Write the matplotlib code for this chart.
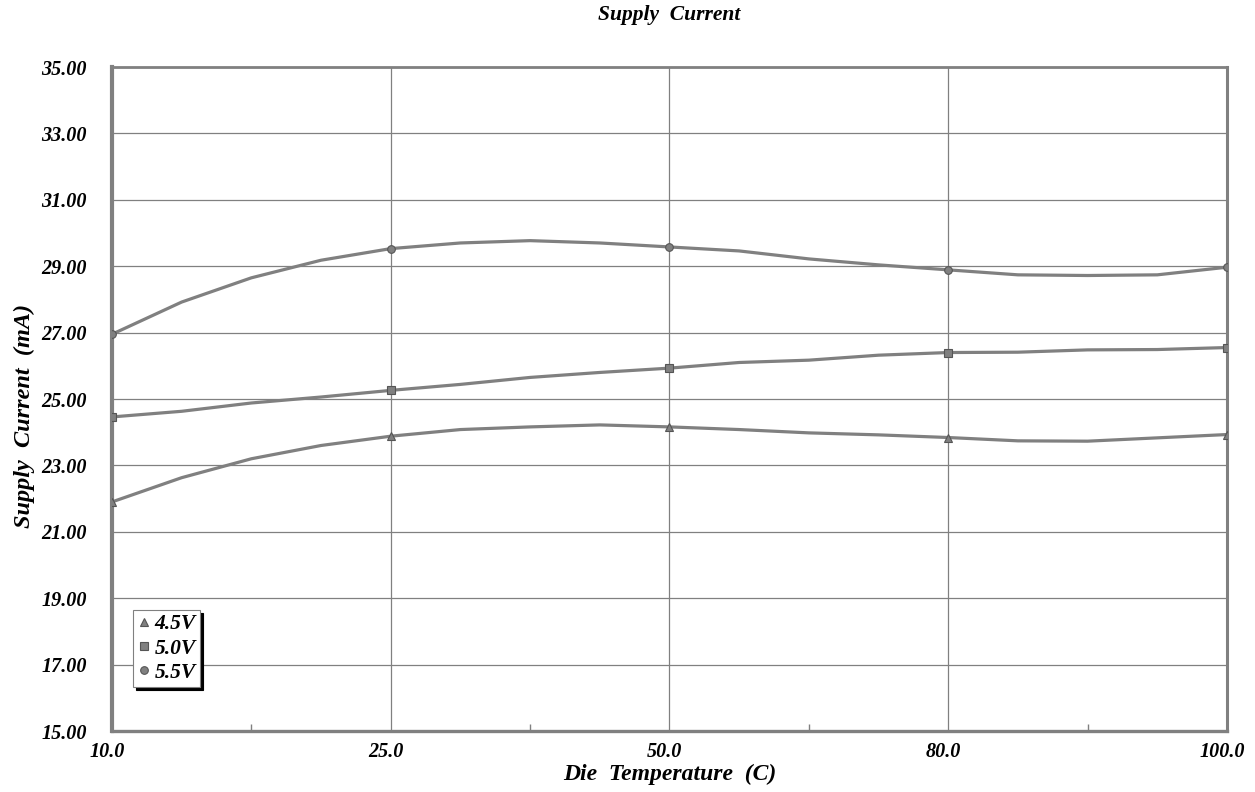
import numpy as np
import matplotlib
matplotlib.use("Agg")
import matplotlib.pyplot as plt
from matplotlib.ticker import FixedLocator
from matplotlib.transforms import ScaledTranslation

# Category labels on the x axis (equally spaced categories)
temp_labels = ["10.0", "25.0", "50.0", "80.0", "100.0"]

# Curve every quarter category (markers sit on every 4th point)
trace_pos = [0.0, 0.25, 0.5, 0.75, 1.0, 1.25, 1.5, 1.75, 2.0,
             2.25, 2.5, 2.75, 3.0, 3.25, 3.5, 3.75, 4.0]
curr_45 = [21.90, 22.63, 23.20, 23.60, 23.88, 24.08, 24.16, 24.22, 24.16,
           24.08, 23.98, 23.92, 23.84, 23.74, 23.73, 23.83, 23.93]
curr_50 = [24.46, 24.63, 24.88, 25.06, 25.26, 25.44, 25.65, 25.80, 25.93,
           26.10, 26.17, 26.32, 26.40, 26.41, 26.48, 26.49, 26.55]
curr_55 = [26.95, 27.92, 28.65, 29.18, 29.53, 29.70, 29.77, 29.70, 29.58,
           29.46, 29.22, 29.04, 28.89, 28.74, 28.72, 28.74, 28.97]

series_names = ["4.5V", "5.0V", "5.5V"]
y_ticks = [15, 17, 19, 21, 23, 25, 27, 29, 31, 33, 35]

GRAY = "#808080"
FONT = dict(family="Liberation Serif", weight="bold", style="italic")

fig = plt.figure(figsize=(12.55, 7.92), dpi=100)
ax = fig.add_axes([0.0892, 0.077, 0.8885, 0.8384])

markers = ["^", "s", "o"]
for vals, mk, name in zip([curr_45, curr_50, curr_55], markers, series_names):
	ax.plot(trace_pos, vals, color=GRAY, lw=2.3, zorder=3,
			marker=mk, markevery=4, ms=5.5, mfc=GRAY, mec="#555555", mew=0.8,
			label=name)

ax.set_xlim(0, 4)
ax.set_ylim(15, 35)
ax.set_xticks(range(len(temp_labels)))
ax.set_xticklabels(temp_labels, fontsize=14.5, **FONT)
ax.set_yticks(y_ticks)
ax.set_yticklabels(["%.2f" % v for v in y_ticks], fontsize=14.5, **FONT)
ax.xaxis.set_minor_locator(FixedLocator([0.5, 1.5, 2.5, 3.5]))
ax.tick_params(axis="both", which="major", length=0)
ax.tick_params(axis="y", pad=18)
ax.tick_params(axis="x", pad=8)
ax.tick_params(axis="x", which="minor", direction="in", length=5, color=GRAY, width=1)

# x labels sit a little left of their gridlines in the original
shift = ScaledTranslation(-5 / 100, 0, fig.dpi_scale_trans)
for lbl in ax.get_xticklabels():
	lbl.set_transform(lbl.get_transform() + shift)

ax.grid(True, which="major", color=GRAY, lw=0.9, zorder=0)
ax.set_axisbelow(True)

for side, w in [("left", 3.0), ("bottom", 2.4), ("top", 2.0), ("right", 2.2)]:
	ax.spines[side].set_color(GRAY)
	ax.spines[side].set_linewidth(w)

fig.text(0.533, 0.994, "Supply  Current", ha="center", va="top", fontsize=15.5, **FONT)
ax.set_xlabel("Die  Temperature  (C)", fontsize=17, labelpad=1, **FONT)
ax.set_ylabel("Supply  Current  (mA)", fontsize=17.5, **FONT)
ax.yaxis.set_label_coords(-0.069, 0.475)

leg = ax.legend(loc="lower left", bbox_to_anchor=(0.019, 0.066), frameon=True,
				fancybox=False, shadow={"color": "black", "alpha": 1},
				handlelength=0.6, handletextpad=0.2, borderpad=0.2,
				labelspacing=0.2, borderaxespad=0,
				prop=dict(family="Liberation Serif", weight="bold", style="italic", size=15.5))
leg.get_frame().set_edgecolor(GRAY)
leg.get_frame().set_linewidth(0.8)
for h in leg.legend_handles:
	h.set_linestyle("none")

fig.savefig("out.png", dpi=100)
